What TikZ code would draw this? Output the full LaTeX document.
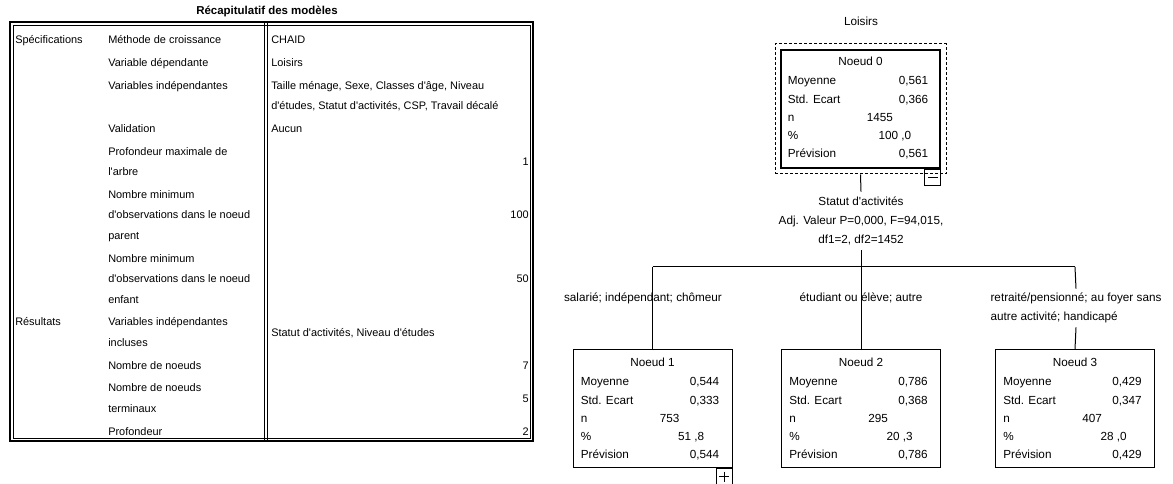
\documentclass[tikz,border=0pt]{standalone}
\usepackage{fontspec}
\newfontfamily\lib{Liberation Sans}
\usetikzlibrary{calc,fit}
\newcommand\treecontent[7]{%
  \node[tr, anchor=base] (#1-h) at ($(#1.north)+(0,17.2)$) {#2};
  \node[trl] (#1-la) at ($(#1.north west)+(8,36.2)$) {Moyenne};
  \node[trl] (#1-lb) at ($(#1.north west)+(8,55.2)$) {Std. Ecart};
  \node[trl] (#1-lc) at ($(#1.north west)+(8,73.2)$) {n};
  \node[trl] (#1-ld) at ($(#1.north west)+(8,91.2)$) {\%};
  \node[trl] (#1-le) at ($(#1.north west)+(8,109.2)$) {Prévision};
  \node[trr] (#1-va) at ($(#1.north east)+(-13,36.2)$) {#3};
  \node[trr] (#1-vb) at ($(#1.north east)+(-13,55.2)$) {#4};
  \node[trl] (#1-vc) at ($(#1.north west)+(87,73.2)$) {#5};
  \node[trr] (#1-vd) at ($(#1.north west)+(132,91.2)$) {#6};
  \node[trr] (#1-ve) at ($(#1.north east)+(-13,109.2)$) {#7};
}
\begin{document}
\begin{tikzpicture}[x=0.75pt,y=-0.75pt,
  tab/.style={font=\lib\fontsize{8.2}{9.8}\selectfont, inner sep=0pt, anchor=base west},
  tabr/.style={tab, anchor=base east},
  tr/.style={font=\lib\fontsize{8.8}{14.25}\selectfont, inner sep=0pt},
  trl/.style={tr, anchor=base west},
  trr/.style={tr, anchor=base east},
  tbox/.style={draw, line width=0.75pt, minimum width=119.25pt, minimum height=88.5pt, inner sep=0pt},
  sbox/.style={draw, line width=0.75pt, minimum width=12pt, minimum height=12pt, inner sep=0pt, anchor=north east},
  link/.style={line width=0.75pt},
]
\useasboundingbox (0,0) rectangle (1173,484);
% ---------- table ----------
\node[font=\lib\bfseries\fontsize{8.6}{10}\selectfont, inner sep=0pt] (ttl) at (267,11) {Récapitulatif des modèles};
\draw[line width=1.5pt] (10,22) rectangle (533,441);
\draw[line width=0.6pt] (13,25) rectangle (530,438);
\draw[line width=1.1pt] (264.5,22) -- (264.5,441);
\draw[line width=1.1pt] (267.5,22) -- (267.5,441);
\node[tab] (a1) at (15,44) {Spécifications};
\node[tab] (b1) at (108,44) {Méthode de croissance};
\node[tab] (c1) at (271,44) {CHAID};
\node[tab] (b2) at (108,66.7) {Variable dépendante};
\node[tab] (c2) at (271,66.7) {Loisirs};
\node[tab] (b3) at (108,89.4) {Variables indépendantes};
\node[tab] (c3) at (271,89.4) {Taille ménage, Sexe, Classes d'âge, Niveau};
\node[tab] (c4) at (271,109.9) {d'études, Statut d'activités, CSP, Travail décalé};
\node[tab] (b5) at (108,132.6) {Validation};
\node[tab] (c5) at (271,132.6) {Aucun};
\node[tab] (b6) at (108,155.3) {Profondeur maximale de};
\node[tab] (b7) at (108,175.8) {l'arbre};
\node[tabr] (c6) at (529,165.5) {1};
\node[tab] (b8) at (108,198.5) {Nombre minimum};
\node[tab] (b9) at (108,219) {d'observations dans le noeud};
\node[tab] (b10) at (108,239.5) {parent};
\node[tabr] (c9) at (529,219) {100};
\node[tab] (b11) at (108,262.2) {Nombre minimum};
\node[tab] (b12) at (108,282.7) {d'observations dans le noeud};
\node[tab] (b13) at (108,303.2) {enfant};
\node[tabr] (c12) at (529,282.7) {50};
\node[tab] (a14) at (15,325.9) {Résultats};
\node[tab] (b14) at (108,325.9) {Variables indépendantes};
\node[tab] (b15) at (108,346.4) {incluses};
\node[tab] (c14) at (271,336) {Statut d'activités, Niveau d'études};
\node[tab] (b16) at (108,369.1) {Nombre de noeuds};
\node[tabr] (c16) at (529,369.1) {7};
\node[tab] (b17) at (108,391.8) {Nombre de noeuds};
\node[tab] (b18) at (108,412.3) {terminaux};
\node[tabr] (c17) at (529,402) {5};
\node[tab] (b19) at (108,435) {Profondeur};
\node[tabr] (c19) at (529,435) {2};
% ---------- tree ----------
\node[tr] (root) at (861,21) {Loisirs};
\node[tbox, line width=2.2pt] (n0) at (860.5,109) {};
\node[draw, line width=0.75pt, dash pattern=on 2.25pt off 1.5pt, fit=(n0), inner sep=3.4pt] (n0d) {};
\node[sbox] (m0) at (n0.south east) {};
\draw[link] ($(m0.center)+(-5,0)$) -- ($(m0.center)+(5,0)$);
\treecontent{n0}{Noeud 0}{0,561}{0,366}{1455}{100 ,0}{0,561}
\node[tr, align=center, inner ysep=3.75pt] (sp) at (861,221) {Statut d'activités\\Adj. Valeur P=0,000, F=94,015,\\df1=2, df2=1452};
\node[tbox] (n1) at (652.5,408.5) {};
\node[tbox] (n2) at (861,408.5) {};
\node[tbox] (n3) at (1075,408.5) {};
\node[sbox] (p1) at (n1.south east) {};
\draw[link] ($(p1.center)+(-5,0)$) -- ($(p1.center)+(5,0)$);
\draw[link] ($(p1.center)+(0,-5)$) -- ($(p1.center)+(0,5)$);
\treecontent{n1}{Noeud 1}{0,544}{0,333}{753}{51 ,8}{0,544}
\treecontent{n2}{Noeud 2}{0,786}{0,368}{295}{20 ,3}{0,786}
\treecontent{n3}{Noeud 3}{0,429}{0,347}{407}{28 ,0}{0,429}
\coordinate (j1) at (652.5,267);
\coordinate (j2) at (861,267);
\coordinate (j3) at (1075,267);
\draw[link] (n0d.south) -- (sp.north);
\draw[link] (sp.south) -- (j2);
\draw[link] (j1) -- (j3);
\draw[link] (j1) -- (n1.north);
\draw[link] (j2) -- (n2.north);
\node[tr] (l1) at (643,298) {salarié; indépendant; chômeur};
\node[tr] (l2) at (861,298) {étudiant ou élève; autre};
\node[tr, align=left, inner ysep=3pt] (l3) at (1076,308) {retraité/pensionné; au foyer sans\\autre activité; handicapé};
\draw[link] (j3) -- (l3.north);
\draw[link] (l3.south) -- (n3.north);
\end{tikzpicture}
\end{document}
